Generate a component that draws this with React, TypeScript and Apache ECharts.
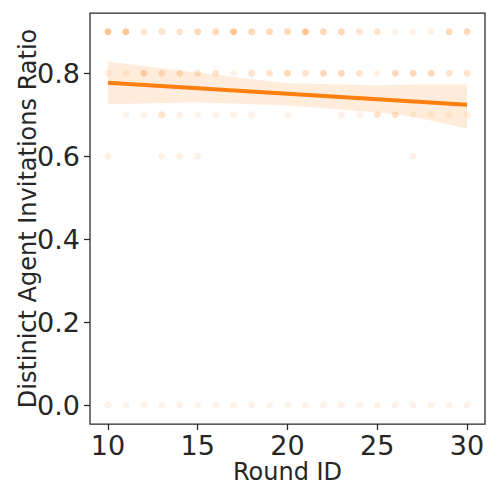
import React, { useEffect, useRef } from "react";
import * as echarts from "echarts";

const rounds = [10, 11, 12, 13, 14, 15, 16, 17, 18, 19, 20, 21, 22, 23, 24, 25, 26, 27, 28, 29, 30];
const levels = [0.9, 0.8, 0.7, 0.6, 0.0];
// number of overlapping observations at each (round, level)
const count09 = [5, 5, 2, 2, 2, 3, 3, 5, 3, 3, 3, 5, 3, 3, 2, 2, 1, 1, 1, 3, 3];
const count08 = [1, 1, 3, 2, 2, 2, 2, 1, 2, 2, 3, 2, 3, 3, 2, 1, 3, 3, 3, 2, 2];
const count07 = [0, 1, 1, 2, 1, 1, 1, 1, 1, 0, 1, 0, 0, 1, 1, 2, 2, 1, 1, 1, 1];
const count06 = [1, 0, 0, 1, 1, 1, 0, 0, 0, 0, 0, 0, 0, 0, 0, 0, 0, 1, 0, 0, 0];
const count00 = [1, 1, 1, 1, 1, 1, 1, 1, 1, 1, 1, 1, 1, 1, 1, 1, 1, 1, 1, 1, 1];
const countsByLevel = [count09, count08, count07, count06, count00];

const fitX = [10, 30];
const fitY = [0.777, 0.724];
const bandX = [10, 15, 20, 25, 27, 30];
const bandLower = [0.725, 0.730, 0.722, 0.706, 0.695, 0.667];
const bandUpper = [0.828, 0.801, 0.776, 0.771, 0.773, 0.773];

const xTicks = [10, 15, 20, 25, 30];
const yTicks = [0, 0.2, 0.4, 0.6, 0.8];

const ORANGE = "#ff7f0e";
const TEXT = "#262626";

export default function App() {
  const ref = useRef<HTMLDivElement>(null);
  useEffect(() => {
    document.body.style.margin = "0";
    if (!ref.current) return;
    const chart = echarts.init(ref.current, undefined, { renderer: "svg" });

    const scatterData: any[] = [];
    levels.forEach((lv, li) => {
      rounds.forEach((r, ri) => {
        const c = countsByLevel[li][ri];
        if (c > 0) {
          scatterData.push({
            value: [r, lv],
            itemStyle: { opacity: 1 - Math.pow(0.89, c) },
          });
        }
      });
    });

    chart.setOption({
      animation: false,
      backgroundColor: "#ffffff",
      textStyle: { fontFamily: "DejaVu Sans" },
      grid: {
        left: 90,
        top: 13,
        right: 13,
        bottom: 74,
        show: true,
        borderColor: TEXT,
        borderWidth: 1.25,
        backgroundColor: "transparent",
      },
      xAxis: {
        type: "value",
        min: 9,
        max: 31,
        name: "Round ID",
        nameLocation: "middle",
        nameGap: 36,
        nameMoveOverlap: false,
        nameTextStyle: { fontSize: 24, color: TEXT, verticalAlign: "top" },
        axisLine: { show: false, onZero: false },
        splitLine: { show: false },
        axisTick: {
          show: true,
          customValues: xTicks,
          length: 6,
          lineStyle: { color: TEXT, width: 1.25 },
        },
        axisLabel: {
          customValues: xTicks,
          fontSize: 27,
          color: TEXT,
          margin: 8,
        },
      },
      yAxis: {
        type: "value",
        min: -0.045,
        max: 0.945,
        name: "Distinict Agent Invitations Ratio",
        nameLocation: "middle",
        nameGap: 50,
        nameMoveOverlap: false,
        nameTextStyle: { fontSize: 24, color: TEXT },
        axisLine: { show: false, onZero: false },
        splitLine: { show: false },
        axisTick: {
          show: true,
          customValues: yTicks,
          length: 6,
          lineStyle: { color: TEXT, width: 1.25 },
        },
        axisLabel: {
          customValues: yTicks,
          fontSize: 27,
          color: TEXT,
          margin: 10,
          formatter: (v: number) => v.toFixed(1),
        },
      },
      series: [
        {
          type: "scatter",
          data: scatterData,
          symbol: "circle",
          symbolSize: 7,
          itemStyle: { color: ORANGE },
          z: 2,
        },
        {
          type: "custom",
          data: [[bandX[0], bandLower[0]]],
          z: 3,
          silent: true,
          renderItem: (params: any, api: any) => {
            const pts: number[][] = [];
            for (let i = 0; i < bandX.length; i++) pts.push(api.coord([bandX[i], bandUpper[i]]));
            for (let i = bandX.length - 1; i >= 0; i--) pts.push(api.coord([bandX[i], bandLower[i]]));
            return {
              type: "polygon",
              shape: { points: pts },
              style: { fill: ORANGE, opacity: 0.15 },
            };
          },
        },
        {
          type: "line",
          data: fitX.map((x, i) => [x, fitY[i]]),
          symbol: "none",
          lineStyle: { color: ORANGE, width: 4 },
          z: 4,
        },
      ],
    });
    return () => chart.dispose();
  }, []);
  return <div ref={ref} style={{ width: 498, height: 498 }} />;
}
